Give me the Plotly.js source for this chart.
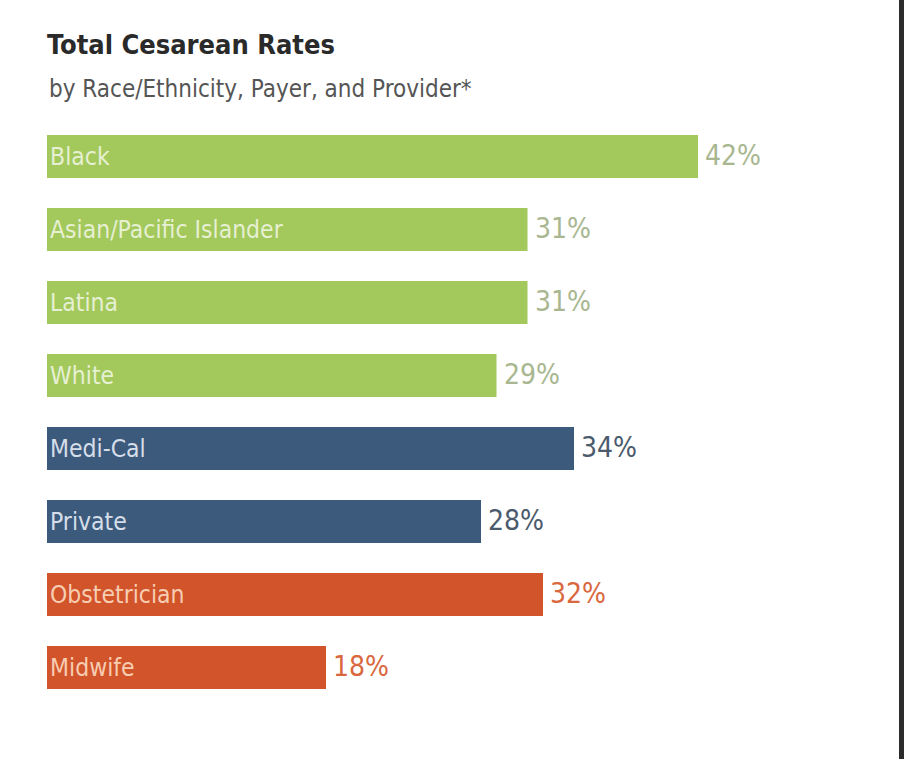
<!DOCTYPE html>
<html>
<head>
<meta charset="utf-8">
<script src="https://cdn.plot.ly/plotly-3.0.1.min.js"></script>
<style>
  html, body { margin: 0; padding: 0; background: #ffffff; }
  #chart { width: 911px; height: 759px; }
</style>
</head>
<body>
<div id="chart"></div>
<script>
// ---- Data ----
const categories = ["Black", "Asian/Pacific Islander", "Latina", "White", "Medi-Cal", "Private", "Obstetrician", "Midwife"];
const rates = [42, 31, 31, 29, 34, 28, 32, 18];
const groups = ["race", "race", "race", "race", "payer", "payer", "provider", "provider"];
const valueLabels = ["42%", "31%", "31%", "29%", "34%", "28%", "32%", "18%"];
const titleText = "Total Cesarean Rates";
const subtitleText = "by Race/Ethnicity, Payer, and Provider*";

// ---- Styles ----
const barColor = { race: "#a3c85c", payer: "#3c5a7c", provider: "#d2542a" };
const insideTextColor = { race: "#e6f0d2", payer: "#d6dfe9", provider: "#f7cdb2" };
const valueTextColor = { race: "#a9b790", payer: "#4b5a6c", provider: "#d9683e" };
const FONT = "'Liberation Sans Narrow', 'Arial Narrow', 'DejaVu Sans Condensed', 'Liberation Sans', sans-serif";

const barTrace = {
  type: "bar",
  orientation: "h",
  y: categories,
  x: rates,
  width: 0.59,
  marker: { color: groups.map(g => barColor[g]), line: { width: 0 } },
  text: categories,
  textposition: "inside",
  insidetextanchor: "start",
  constraintext: "none",
  textfont: { family: FONT, size: 24.5, color: groups.map(g => insideTextColor[g]) },
  hoverinfo: "skip",
  cliponaxis: false
};

const valueAnnotations = categories.map((c, i) => ({
  x: rates[i], y: c, xref: "x", yref: "y",
  text: valueLabels[i],
  xanchor: "left", yanchor: "middle",
  xshift: 5, yshift: 1,
  showarrow: false,
  font: { family: FONT, size: 28, color: valueTextColor[groups[i]] }
}));

const layout = {
  width: 911,
  height: 759,
  margin: { l: 47, r: 27, t: 120, b: 55 },
  paper_bgcolor: "#ffffff",
  plot_bgcolor: "#ffffff",
  showlegend: false,
  title: {
    text: "<b>" + titleText + "</b>",
    font: { family: FONT, size: 27, color: "#2a2a2a" },
    xref: "container", x: 47 / 911, xanchor: "left",
    yref: "container", y: 1 - 45 / 759, yanchor: "middle"
  },
  xaxis: {
    range: [0, 54],
    showgrid: false, zeroline: false, showticklabels: false, ticks: "", showline: false, fixedrange: true
  },
  yaxis: {
    autorange: "reversed",
    showgrid: false, zeroline: false, showticklabels: false, ticks: "", showline: false, fixedrange: true
  },
  annotations: [{
    text: subtitleText,
    xref: "paper", x: 0, xanchor: "left",
    yref: "paper", y: (704.5 - 88) / 585, yanchor: "middle",
    showarrow: false,
    font: { family: FONT, size: 24, color: "#555555" }
  }].concat(valueAnnotations),
  shapes: [{
    type: "line", xref: "paper", yref: "paper",
    x0: (901.5 - 47) / 837, x1: (901.5 - 47) / 837,
    y0: -0.2, y1: 1.3,
    line: { color: "#2b2b2b", width: 5 }
  }]
};

Plotly.newPlot("chart", [barTrace], layout, { displayModeBar: false, staticPlot: true });
</script>
</body>
</html>
